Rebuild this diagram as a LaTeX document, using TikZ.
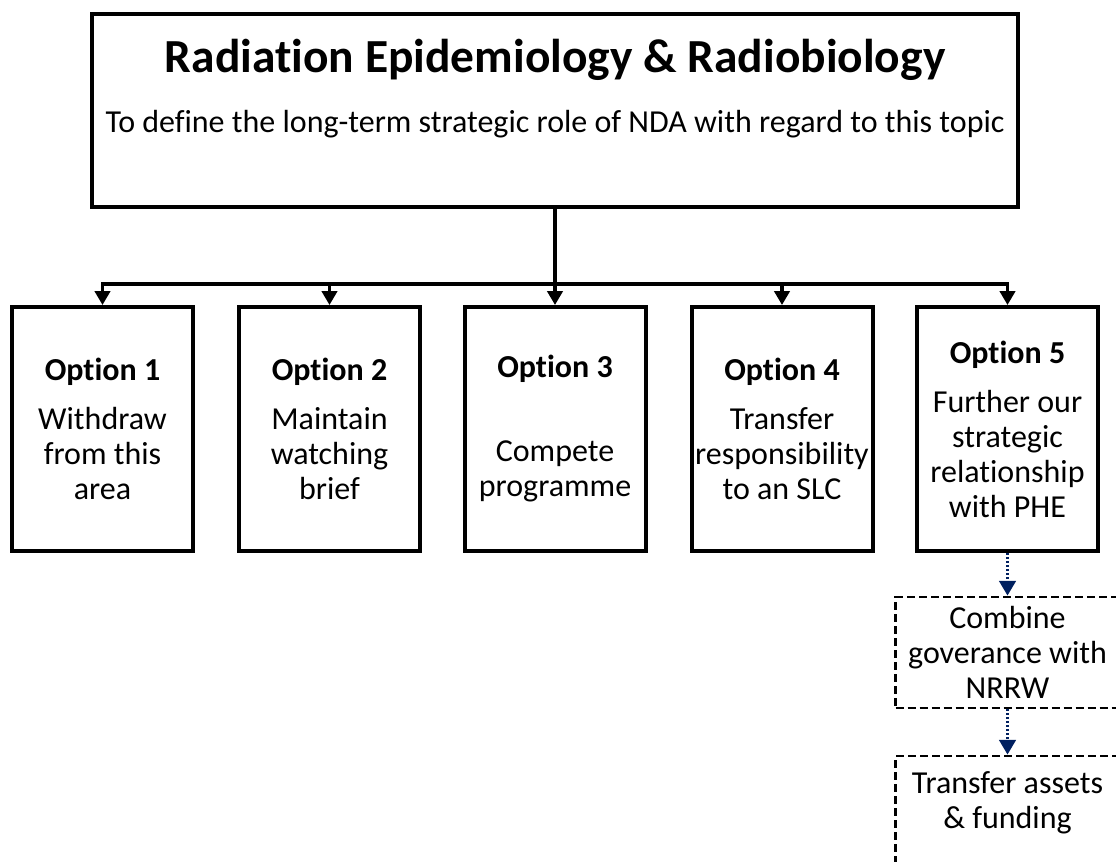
\documentclass[tikz,border=0pt]{standalone}
\usepackage{fontspec}
\setmainfont{Carlito}[Ligatures=CommonOff]
\usetikzlibrary{arrows.meta}
\definecolor{navy}{HTML}{002060}
\newcommand\bodyfont{\fontsize{24}{26.25}\selectfont}
\newcommand\titlefont{\fontsize{35.6}{42}\selectfont\bfseries}
\begin{document}
\begin{tikzpicture}[x=0.75pt,y=-0.75pt,
  solidbox/.style={draw=black, line width=3pt, rectangle, inner sep=0pt, align=center, font=\bodyfont},
  optbox/.style={solidbox, minimum width=135.75pt, minimum height=183pt},
  dashbox/.style={draw=black, line width=2.2pt, dash pattern=on 6pt off 3pt, rectangle, inner sep=0pt, align=center, font=\bodyfont, minimum width=168pt},
  conn/.style={draw=black, line width=2.5pt, -{Triangle[width=11.5pt,length=10.5pt]}},
  plainconn/.style={draw=black, line width=2.5pt},
  dotconn/.style={draw=navy, line width=1.8pt, dash pattern=on 1.5pt off 1.5pt, -{Triangle[width=12.5pt,length=11pt]}},
  txt/.style={inner sep=0pt, anchor=base}
]
\useasboundingbox[fill=white] (0,0) rectangle (1116,861);

% top box
\node[solidbox, minimum width=694.5pt, minimum height=144.75pt] (top) at (555,110.5) {};
\node[txt, font=\titlefont] (title) at (555,72) {Radiation Epidemiology \& Radiobiology};
\node[txt, font=\bodyfont] (subtitle) at (555,132) {To define the long-term strategic role of NDA with regard to this topic};

% option boxes
\node[optbox] (o1) at (102.5,429) {\textbf{Option 1}\\[10.5pt] Withdraw\\ from this\\ area};
\node[optbox] (o2) at (329.5,429) {\textbf{Option 2}\\[10.5pt] Maintain\\ watching\\ brief};
\node[optbox] (o3) at (555,429) {\textbf{Option 3}\\[10.5pt] \mbox{}\\ Compete\\ programme};
\node[optbox] (o4) at (782,429) {\textbf{Option 4}\\[10.5pt] Transfer\\ responsibility\\ to an SLC};
\node[optbox] (o5) at (1007.5,429) {\textbf{Option 5}\\[10.5pt] Further our\\ strategic\\ relationship\\ with PHE};

% sub-steps of option 5
\node[dashbox, minimum height=83.25pt] (comb) at (1007.5,652.5) {Combine\\ goverance with\\ NRRW};
\node[dashbox, minimum height=93pt] (trans) at (1007.5,818) {Transfer assets\\ \& funding\\ \mbox{}};

% connectors
\coordinate (hub) at (555,284);
\draw[plainconn] (top.south) -- (hub);
\draw[conn] (hub) -| (o1.north);
\draw[conn] (hub) -| (o2.north);
\draw[conn] (hub) -- (o3.north);
\draw[conn] (hub) -| (o4.north);
\draw[conn] (hub) -| (o5.north);
\draw[dotconn] (o5.south) -- (comb.north);
\draw[dotconn] (comb.south) -- (trans.north);
\end{tikzpicture}
\end{document}
